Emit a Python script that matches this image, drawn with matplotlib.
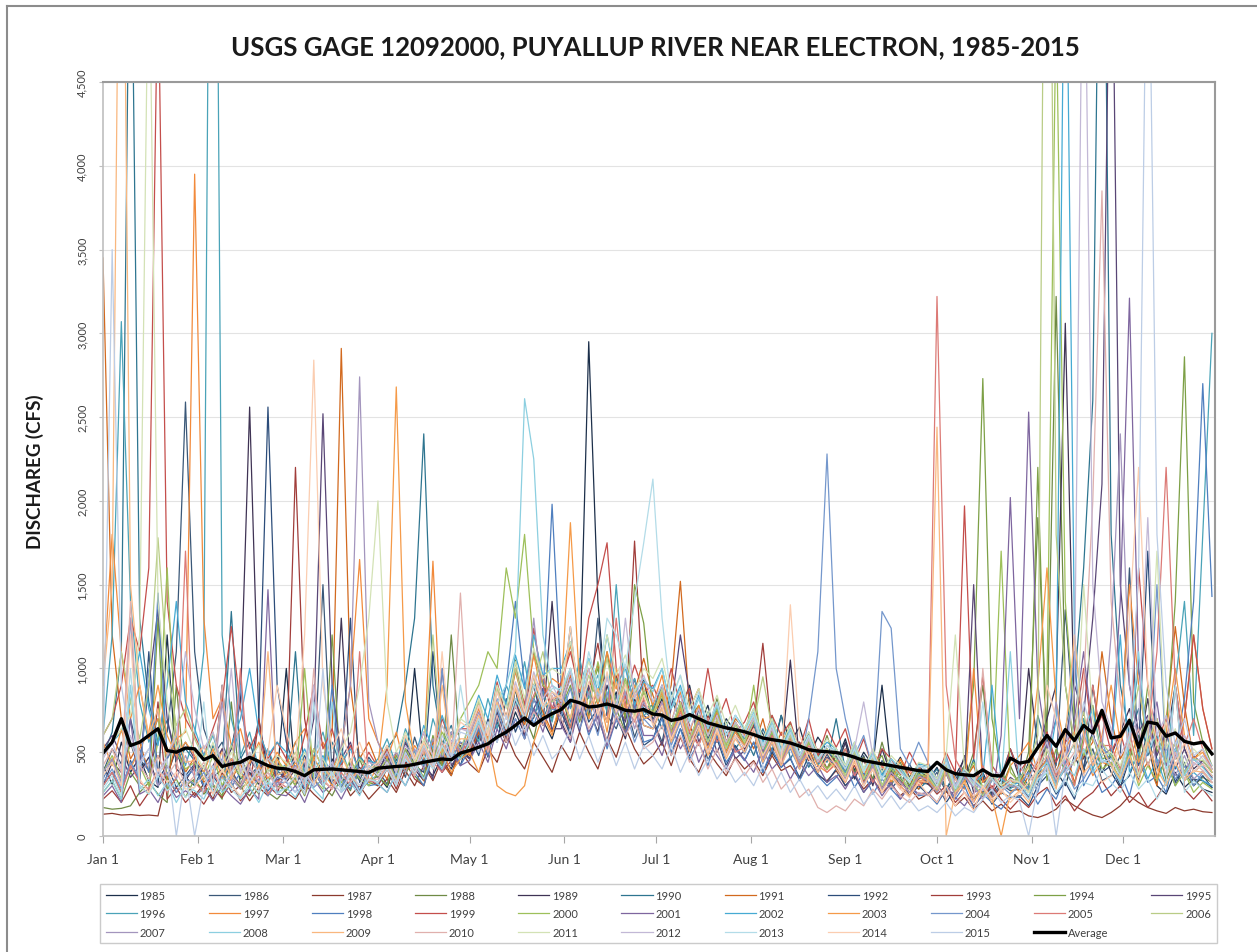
import numpy as np
import matplotlib
matplotlib.use("Agg")
import matplotlib.pyplot as plt
from matplotlib.ticker import FuncFormatter
from matplotlib.lines import Line2D

plt.rcParams['font.family'] = ['Lato', 'DejaVu Sans']

# Daily discharge (cfs) sampled every third day of the year, one list per year
Y1985 = [420, 310, 560, 380, 470, 330, 290, 1200, 400, 350,
         300, 420, 330, 900, 360, 290, 380, 310, 270, 350,
         1000, 330, 280, 390, 310, 460, 350, 300, 410, 320,
         360, 290, 440, 380, 1000, 410, 360, 480, 400, 530,
         460, 590, 520, 680, 560, 740, 610, 820, 690, 580,
         760, 640, 900, 2950, 1400, 720, 860, 640, 780, 930,
         690, 820, 580, 740, 900, 650, 780, 560, 700, 620,
         540, 690, 610, 480, 720, 560, 650, 470, 590, 510,
         440, 580, 390, 500, 420, 900, 380, 470, 350, 430,
         330, 410, 280, 360, 460, 300, 380, 250, 340, 290,
         300, 440, 350, 620, 390, 300, 480, 360, 900, 520,
         380, 290, 460, 330, 560, 300, 250, 380, 290, 340,
         280, 260]
Y1986 = [380, 520, 430, 700, 460, 390, 580, 620, 1100, 2590,
         1100, 640, 480, 560, 400, 470, 360, 420, 330, 390,
         340, 450, 310, 380, 1500, 340, 290, 410, 330, 470,
         390, 310, 460, 350, 590, 420, 510, 380, 620, 460,
         500, 650, 470, 720, 560, 810, 640, 705, 880, 630,
         780, 610, 850, 700, 1300, 720, 640, 800, 590, 745,
         700, 560, 820, 685, 520, 760, 580, 690, 500, 640,
         540, 660, 480, 600, 440, 570, 465, 620, 430, 520,
         415, 560, 370, 480, 330, 450, 390, 300, 430, 320,
         310, 380, 260, 340, 420, 290, 360, 240, 310, 270,
         280, 390, 300, 580, 420, 1350, 620, 400, 520, 330,
         360, 480, 1600, 420, 620, 350, 460, 300, 420, 340,
         330, 290]
Y1987 = [130, 135, 125, 128, 122, 125, 120, 350, 260, 330,
         240, 310, 220, 380, 260, 300, 210, 290, 240, 330,
         260, 220, 310, 250, 200, 290, 350, 240, 300, 220,
         280, 340, 260, 390, 300, 420, 330, 460, 370, 510,
         430, 380, 520, 440, 610, 480, 400, 560, 470, 380,
         540, 450, 620, 500, 400, 580, 470, 650, 520, 430,
         480, 560, 420, 590, 460, 380, 510, 430, 360, 470,
         400, 450, 360, 480, 390, 420, 340, 440, 360, 330,
         390, 300, 360, 280, 340, 260, 310, 240, 290, 220,
         250, 200, 270, 180, 230, 160, 210, 150, 190, 140,
         150, 120, 110, 130, 160, 220, 180, 150, 125, 110,
         140, 180, 240, 200, 170, 150, 135, 170, 150, 160,
         145, 140]
Y1988 = [170, 160, 165, 180, 260, 320, 250, 200, 900, 300,
         340, 250, 300, 220, 800, 290, 240, 330, 260, 220,
         280, 360, 250, 420, 300, 240, 350, 270, 460, 320,
         300, 410, 330, 480, 360, 300, 520, 420, 1200, 470,
         540, 690, 480, 760, 620, 1050, 720, 580, 840, 700,
         860, 640, 980, 720, 820, 1100, 760, 620, 900, 700,
         720, 860, 600, 780, 540, 700, 620, 820, 560, 680,
         560, 640, 480, 720, 505, 600, 430, 560, 445, 600,
         425, 520, 380, 470, 340, 560, 365, 440, 300, 410,
         325, 280, 370, 250, 330, 500, 900, 360, 290, 420,
         300, 500, 1900, 600, 3220, 900, 520, 700, 460, 380,
         500, 380, 460, 600, 420, 560, 330, 480, 380, 300,
         350, 320]
Y1989 = [300, 440, 380, 560, 380, 470, 300, 360, 520, 330,
         420, 290, 350, 400, 520, 800, 2560, 700, 380, 470,
         320, 400, 280, 350, 460, 300, 1300, 360, 270, 420,
         350, 460, 310, 520, 400, 330, 580, 440, 360, 540,
         460, 620, 500, 740, 560, 880, 580, 760, 660, 1400,
         680, 560, 840, 760, 620, 900, 720, 580, 820, 660,
         640, 780, 560, 700, 480, 660, 540, 760, 500, 640,
         520, 620, 440, 580, 470, 1050, 445, 520, 380, 490,
         400, 560, 340, 460, 300, 520, 360, 420, 290, 380,
         310, 260, 390, 300, 480, 260, 350, 220, 300, 520,
         340, 1000, 520, 700, 900, 3060, 700, 460, 620, 380,
         480, 620, 760, 500, 820, 420, 560, 900, 520, 400,
         450, 380]
Y1990 = [480, 620, 1100, 6000, 1300, 800, 560, 690, 450, 520,
         450, 380, 540, 420, 1340, 460, 560, 380, 470, 360,
         400, 1100, 340, 460, 380, 560, 410, 330, 480, 400,
         420, 520, 600, 900, 1300, 2400, 900, 550, 660, 480,
         500, 640, 560, 780, 600, 880, 680, 960, 700, 820,
         800, 1250, 720, 900, 840, 680, 960, 720, 880, 760,
         780, 640, 860, 700, 820, 600, 740, 560, 680, 520,
         600, 480, 640, 510, 720, 460, 560, 410, 500, 440,
         700, 390, 470, 330, 440, 380, 300, 410, 350, 280,
         330, 400, 280, 380, 300, 460, 260, 340, 360, 520,
         380, 300, 720, 520, 340, 640, 900, 1600, 2600, 7000,
         1800, 900, 600, 760, 480, 600, 420, 520, 380, 460,
         410, 360]
Y1991 = [3450, 1200, 700, 460, 560, 380, 480, 340, 560, 380,
         470, 320, 380, 520, 340, 430, 300, 380, 460, 320,
         380, 470, 340, 520, 400, 620, 2910, 900, 460, 560,
         420, 340, 500, 380, 460, 330, 560, 440, 360, 520,
         480, 620, 500, 700, 560, 820, 660, 900, 740, 620,
         760, 960, 700, 880, 1020, 780, 900, 700, 860, 1060,
         840, 700, 900, 1520, 760, 880, 620, 780, 560, 700,
         640, 520, 700, 480, 620, 540, 440, 600, 490, 400,
         520, 390, 470, 330, 500, 420, 310, 460, 340, 280,
         370, 290, 440, 260, 330, 420, 240, 380, 300, 340,
         260, 360, 440, 620, 380, 520, 320, 480, 560, 1100,
         700, 460, 560, 360, 440, 300, 680, 1250, 780, 460,
         520, 400]
Y1992 = [300, 380, 260, 450, 320, 1100, 340, 420, 290, 360,
         430, 300, 360, 280, 460, 340, 400, 700, 2560, 900,
         560, 400, 480, 330, 420, 300, 380, 1300, 320, 390,
         380, 500, 350, 560, 420, 380, 1100, 460, 540, 420,
         600, 480, 700, 560, 820, 620, 760, 900, 660, 760,
         740, 600, 880, 680, 760, 560, 840, 640, 700, 540,
         580, 720, 480, 640, 520, 700, 450, 580, 420, 540,
         450, 560, 380, 500, 410, 460, 350, 480, 370, 320,
         400, 300, 360, 260, 330, 400, 280, 350, 240, 300,
         250, 320, 200, 280, 360, 220, 300, 190, 260, 230,
         240, 180, 300, 360, 250, 320, 220, 420, 620, 380,
         420, 300, 360, 520, 1700, 400, 540, 320, 440, 300,
         360, 290]
Y1993 = [220, 270, 200, 300, 180, 260, 800, 220, 290, 200,
         260, 190, 280, 230, 320, 210, 270, 700, 300, 250,
         420, 2200, 700, 380, 300, 410, 280, 360, 250, 340,
         300, 400, 280, 440, 340, 300, 480, 380, 450, 560,
         500, 640, 560, 780, 620, 900, 700, 1100, 900, 760,
         800, 1000, 700, 880, 1150, 800, 960, 700, 1760, 780,
         740, 900, 620, 800, 660, 540, 720, 600, 500, 640,
         540, 660, 1150, 600, 480, 560, 560, 450, 520, 400,
         480, 360, 420, 320, 400, 290, 360, 300, 240, 330,
         320, 250, 300, 200, 260, 180, 240, 300, 220, 160,
         220, 170, 250, 290, 180, 240, 150, 220, 260, 330,
         240, 300, 200, 260, 170, 230, 320, 900, 280, 220,
         280, 210]
Y1994 = [260, 330, 220, 380, 300, 250, 1300, 280, 340, 230,
         340, 260, 310, 240, 380, 280, 330, 250, 420, 300,
         270, 350, 240, 390, 300, 1200, 320, 280, 380, 330,
         360, 300, 480, 380, 440, 350, 600, 420, 520, 460,
         520, 680, 560, 780, 640, 880, 700, 820, 960, 720,
         760, 900, 680, 840, 1000, 760, 940, 700, 1500, 1270,
         740, 860, 640, 700, 700, 780, 560, 680, 520, 640,
         550, 700, 480, 620, 500, 680, 430, 560, 480, 400,
         520, 380, 470, 340, 420, 480, 320, 390, 300, 360,
         330, 260, 380, 300, 420, 900, 2730, 700, 380, 300,
         360, 280, 2200, 330, 520, 380, 300, 600, 780, 460,
         480, 360, 520, 440, 900, 500, 620, 1400, 2860, 800,
         560, 420]
Y1995 = [520, 600, 480, 350, 420, 900, 1350, 700, 460, 560,
         460, 340, 420, 520, 390, 300, 460, 380, 520, 330,
         390, 300, 420, 700, 2520, 900, 460, 560, 360, 450,
         390, 480, 340, 560, 400, 460, 340, 1000, 420, 500,
         460, 600, 480, 700, 560, 820, 600, 760, 880, 640,
         640, 800, 620, 900, 700, 560, 800, 680, 940, 720,
         680, 540, 760, 1200, 840, 560, 680, 500, 620, 460,
         510, 620, 440, 560, 420, 640, 410, 500, 380, 470,
         410, 320, 460, 300, 400, 280, 370, 330, 260, 340,
         360, 280, 400, 250, 330, 1500, 320, 380, 260, 350,
         310, 230, 380, 460, 300, 560, 900, 720, 1300, 2100,
         6000, 1500, 900, 620, 720, 480, 620, 400, 520, 380,
         430, 350]
Y1996 = [600, 1200, 3070, 1400, 800, 560, 700, 480, 600, 420,
         600, 1100, 9000, 1200, 700, 480, 620, 400, 520, 380,
         430, 560, 380, 480, 620, 400, 520, 360, 470, 400,
         460, 580, 420, 640, 500, 420, 700, 540, 620, 480,
         680, 560, 820, 640, 900, 760, 1040, 720, 860, 680,
         920, 760, 1060, 820, 960, 740, 1500, 820, 940, 720,
         760, 900, 640, 800, 580, 720, 560, 680, 520, 640,
         580, 680, 500, 620, 450, 560, 430, 580, 420, 500,
         470, 380, 520, 340, 460, 300, 410, 360, 280, 380,
         370, 290, 420, 260, 360, 300, 240, 330, 370, 280,
         340, 260, 360, 420, 300, 440, 560, 700, 400, 520,
         480, 380, 620, 1000, 560, 700, 420, 900, 1400, 600,
         1800, 3000]
Y1997 = [900, 1800, 1100, 700, 900, 580, 700, 460, 580, 620,
         3950, 1300, 700, 820, 540, 640, 430, 560, 400, 500,
         420, 560, 640, 460, 560, 400, 520, 900, 1650, 700,
         560, 460, 620, 400, 540, 460, 1640, 500, 600, 480,
         620, 760, 580, 880, 700, 980, 780, 1080, 820, 940,
         900, 1140, 860, 1000, 780, 1100, 880, 1020, 760, 920,
         780, 960, 680, 860, 620, 780, 600, 740, 560, 680,
         600, 720, 520, 640, 480, 620, 460, 580, 440, 540,
         490, 400, 540, 360, 480, 420, 320, 460, 380, 300,
         390, 300, 460, 340, 280, 1000, 320, 380, 250, 420,
         480, 560, 380, 460, 320, 400, 440, 520, 360, 440,
         420, 600, 1500, 900, 540, 700, 420, 560, 700, 1200,
         760, 520]
Y1998 = [340, 460, 300, 420, 520, 380, 1450, 460, 560, 350,
         400, 300, 370, 460, 290, 380, 330, 420, 270, 350,
         340, 420, 280, 380, 300, 900, 340, 280, 400, 300,
         310, 420, 360, 500, 380, 300, 480, 400, 560, 420,
         520, 640, 480, 700, 900, 1400, 900, 660, 820, 1980,
         900, 680, 820, 600, 740, 520, 700, 600, 780, 560,
         580, 700, 500, 640, 460, 560, 420, 600, 440, 520,
         450, 560, 380, 520, 410, 470, 330, 440, 360, 300,
         350, 420, 290, 380, 250, 340, 280, 220, 300, 240,
         250, 190, 280, 220, 300, 170, 250, 200, 160, 230,
         230, 300, 190, 280, 220, 360, 1100, 300, 400, 260,
         300, 380, 240, 460, 320, 360, 260, 500, 820, 1400,
         2700, 1430]
Y1999 = [600, 700, 900, 1300, 1100, 1600, 5200, 1400, 900, 700,
         600, 480, 640, 800, 1250, 760, 520, 640, 460, 560,
         460, 380, 600, 900, 520, 640, 420, 540, 380, 500,
         410, 520, 380, 580, 460, 620, 480, 700, 560, 640,
         640, 800, 620, 920, 700, 1000, 780, 1240, 900, 760,
         920, 1100, 860, 1300, 1500, 1750, 1000, 820, 1020, 860,
         900, 760, 1000, 780, 880, 660, 1000, 680, 820, 620,
         680, 800, 560, 720, 600, 680, 520, 700, 480, 640,
         530, 640, 440, 580, 400, 520, 460, 360, 500, 400,
         430, 340, 500, 380, 1970, 460, 960, 420, 340, 520,
         380, 460, 380, 620, 440, 560, 620, 1000, 600, 720,
         500, 620, 420, 1600, 900, 560, 700, 460, 700, 1200,
         760, 520]
Y2000 = [380, 480, 340, 560, 420, 300, 560, 1600, 500, 400,
         440, 340, 480, 300, 420, 360, 280, 400, 310, 460,
         380, 300, 1000, 340, 280, 420, 320, 460, 340, 300,
         380, 460, 340, 520, 420, 560, 440, 620, 520, 700,
         800, 900, 1100, 1000, 1600, 1300, 1800, 1100, 900, 860,
         820, 700, 960, 760, 1040, 820, 720, 940, 700, 860,
         720, 840, 620, 780, 560, 700, 600, 760, 540, 680,
         550, 900, 480, 620, 460, 580, 420, 560, 470, 400,
         450, 360, 500, 340, 440, 300, 400, 340, 280, 370,
         350, 280, 400, 260, 330, 440, 290, 340, 1700, 380,
         320, 260, 380, 900, 5000, 1400, 700, 480, 600, 400,
         440, 340, 500, 300, 420, 330, 460, 300, 380, 260,
         320, 280]
Y2001 = [240, 300, 200, 700, 250, 280, 200, 320, 230, 270,
         230, 290, 210, 300, 240, 190, 280, 220, 1470, 250,
         240, 300, 200, 340, 260, 310, 220, 330, 260, 380,
         310, 260, 380, 300, 420, 340, 480, 380, 500, 420,
         450, 560, 440, 640, 520, 700, 580, 760, 620, 820,
         660, 560, 780, 620, 720, 540, 700, 620, 800, 600,
         600, 480, 660, 520, 620, 440, 560, 480, 400, 520,
         460, 380, 520, 400, 460, 340, 440, 360, 420, 320,
         360, 280, 380, 260, 340, 240, 320, 220, 300, 250,
         260, 200, 300, 230, 180, 260, 280, 220, 600, 2020,
         700, 2530, 900, 520, 700, 400, 700, 1100, 600, 480,
         520, 1400, 3210, 1000, 600, 800, 420, 560, 380, 480,
         430, 340]
Y2002 = [500, 560, 620, 800, 1100, 760, 540, 900, 1400, 800,
         640, 480, 600, 420, 540, 700, 1000, 620, 480, 560,
         500, 400, 520, 380, 480, 360, 440, 520, 380, 450,
         430, 540, 400, 580, 460, 660, 520, 720, 560, 640,
         680, 840, 700, 960, 780, 1080, 880, 1200, 960, 1000,
         1000, 1160, 880, 1060, 860, 1200, 900, 1000, 780, 920,
         880, 1000, 760, 900, 700, 840, 640, 780, 600, 720,
         640, 760, 560, 700, 520, 640, 480, 600, 500, 560,
         520, 420, 560, 400, 500, 360, 460, 400, 340, 430,
         420, 340, 460, 300, 400, 320, 360, 900, 340, 300,
         320, 280, 330, 380, 700, 6000, 1200, 620, 760, 440,
         460, 1200, 380, 500, 340, 460, 300, 420, 330, 380,
         330, 300]
Y2003 = [560, 420, 640, 400, 520, 620, 900, 600, 480, 560,
         480, 380, 520, 340, 460, 380, 300, 420, 340, 460,
         350, 440, 320, 460, 380, 300, 420, 340, 400, 320,
         420, 900, 2680, 800, 460, 560, 400, 520, 380, 460,
         500, 380, 580, 300, 260, 240, 300, 560, 720, 600,
         840, 1870, 900, 700, 880, 620, 1000, 760, 900, 700,
         720, 860, 600, 760, 540, 700, 520, 680, 500, 620,
         540, 640, 460, 580, 440, 540, 400, 520, 420, 380,
         440, 340, 460, 310, 420, 280, 380, 320, 260, 350,
         340, 270, 380, 240, 330, 200, 300, 230, 0, 260,
         300, 420, 900, 1600, 800, 520, 620, 380, 440, 600,
         900, 560, 700, 440, 560, 340, 620, 1000, 600, 460,
         500, 380]
Y2004 = [320, 400, 280, 440, 340, 1000, 300, 380, 260, 340,
         310, 380, 260, 360, 300, 900, 290, 340, 240, 320,
         320, 260, 380, 290, 340, 420, 300, 380, 270, 330,
         320, 420, 300, 460, 380, 520, 440, 1000, 460, 560,
         540, 680, 520, 760, 600, 700, 580, 820, 680, 760,
         720, 880, 640, 780, 600, 860, 680, 760, 560, 700,
         640, 760, 540, 680, 520, 620, 500, 660, 480, 600,
         490, 620, 430, 560, 450, 520, 400, 700, 1100, 2280,
         1000, 700, 480, 600, 400, 1340, 1240, 520, 420, 560,
         440, 340, 480, 300, 400, 330, 280, 380, 300, 250,
         300, 380, 260, 460, 320, 400, 280, 340, 440, 560,
         420, 320, 460, 360, 500, 1500, 460, 340, 420, 300,
         380, 320]
Y2005 = [300, 380, 260, 420, 320, 280, 400, 260, 350, 1700,
         320, 260, 380, 280, 340, 1000, 300, 360, 250, 330,
         290, 360, 250, 420, 330, 280, 380, 300, 1100, 330,
         320, 420, 300, 480, 380, 520, 440, 380, 560, 500,
         560, 700, 520, 780, 640, 900, 700, 840, 960, 760,
         780, 640, 920, 760, 860, 680, 1300, 780, 680, 820,
         680, 800, 580, 740, 620, 540, 700, 560, 660, 500,
         530, 640, 460, 600, 440, 580, 420, 540, 460, 380,
         430, 520, 360, 460, 320, 420, 360, 280, 400, 300,
         360, 3220, 900, 460, 360, 300, 420, 280, 360, 300,
         340, 260, 420, 520, 360, 480, 300, 560, 900, 540,
         540, 400, 620, 380, 600, 1100, 2200, 900, 540, 700,
         520, 400]
Y2006 = [600, 700, 1100, 800, 580, 900, 1780, 1000, 660, 760,
         580, 460, 620, 420, 540, 380, 500, 360, 460, 420,
         410, 500, 360, 520, 400, 340, 480, 380, 460, 400,
         420, 540, 380, 600, 460, 520, 1200, 480, 600, 520,
         660, 800, 620, 880, 700, 1000, 760, 900, 1100, 800,
         840, 1000, 760, 960, 800, 1060, 780, 920, 720, 880,
         720, 880, 640, 800, 580, 720, 560, 700, 520, 660,
         560, 680, 950, 640, 460, 600, 440, 580, 460, 520,
         460, 360, 500, 340, 460, 300, 420, 360, 280, 400,
         360, 280, 420, 260, 380, 310, 240, 340, 280, 300,
         340, 420, 600, 8000, 1800, 900, 560, 740, 460, 560,
         480, 380, 600, 900, 560, 700, 440, 560, 380, 460,
         450, 380]
Y2007 = [380, 460, 320, 1300, 380, 440, 300, 420, 340, 480,
         350, 420, 300, 800, 340, 280, 400, 320, 380, 300,
         360, 420, 320, 400, 300, 420, 520, 900, 2740, 800,
         560, 420, 500, 380, 520, 400, 580, 460, 620, 500,
         600, 740, 560, 820, 640, 900, 720, 1300, 780, 860,
         780, 940, 700, 860, 660, 960, 720, 860, 640, 800,
         680, 800, 600, 720, 540, 680, 500, 640, 480, 600,
         530, 640, 460, 580, 420, 560, 440, 500, 380, 460,
         430, 340, 480, 310, 420, 280, 380, 320, 260, 360,
         330, 260, 380, 240, 350, 290, 220, 340, 280, 300,
         290, 220, 340, 400, 800, 380, 440, 620, 420, 520,
         1200, 2400, 900, 540, 700, 420, 560, 360, 480, 340,
         390, 320]
Y2008 = [260, 330, 220, 900, 280, 340, 240, 320, 200, 300,
         270, 220, 340, 260, 310, 230, 290, 200, 320, 260,
         290, 230, 340, 280, 220, 800, 260, 320, 240, 380,
         310, 260, 380, 300, 440, 340, 480, 400, 520, 460,
         560, 680, 560, 800, 900, 1100, 2610, 2250, 1200, 900,
         860, 1000, 780, 1060, 840, 960, 760, 1020, 860, 940,
         860, 1000, 760, 880, 680, 820, 640, 780, 600, 720,
         620, 740, 540, 680, 500, 640, 480, 600, 460, 540,
         510, 420, 540, 380, 500, 340, 460, 400, 320, 420,
         410, 320, 460, 300, 400, 340, 280, 380, 300, 1100,
         310, 240, 380, 440, 300, 420, 360, 520, 380, 460,
         420, 320, 560, 1100, 500, 620, 400, 520, 360, 460,
         410, 340]
Y2009 = [900, 1500, 7000, 1500, 900, 600, 760, 480, 620, 440,
         450, 540, 380, 500, 340, 460, 320, 400, 1100, 360,
         400, 320, 460, 300, 420, 340, 480, 360, 300, 420,
         360, 440, 330, 480, 400, 560, 420, 900, 480, 580,
         580, 720, 560, 800, 640, 880, 700, 960, 760, 820,
         840, 700, 960, 760, 880, 680, 920, 740, 860, 660,
         640, 760, 560, 700, 500, 640, 480, 620, 460, 580,
         500, 620, 440, 560, 420, 540, 400, 500, 380, 460,
         400, 320, 440, 300, 400, 260, 360, 300, 240, 330,
         320, 2440, 0, 260, 320, 230, 290, 200, 270, 220,
         270, 200, 360, 420, 280, 600, 1200, 600, 420, 520,
         420, 340, 480, 320, 560, 400, 300, 440, 330, 390,
         380, 320]
Y2010 = [420, 520, 380, 1400, 420, 340, 480, 360, 440, 300,
         360, 440, 320, 900, 360, 300, 420, 320, 380, 280,
         330, 410, 300, 1000, 340, 280, 420, 320, 400, 330,
         340, 420, 300, 480, 360, 520, 400, 560, 450, 1450,
         520, 660, 500, 720, 560, 780, 620, 740, 660, 840,
         700, 580, 820, 640, 760, 560, 720, 600, 700, 520,
         560, 660, 480, 600, 440, 560, 400, 520, 380, 460,
         360, 440, 320, 400, 280, 340, 230, 280, 170, 140,
         180, 150, 220, 180, 280, 220, 300, 240, 200, 260,
         240, 300, 220, 340, 260, 200, 1000, 380, 260, 330,
         320, 260, 400, 480, 340, 420, 500, 900, 2000, 3850,
         1400, 800, 520, 640, 420, 560, 360, 500, 340, 440,
         390, 320]
Y2011 = [500, 560, 640, 720, 1200, 5500, 1400, 800, 520, 640,
         500, 400, 560, 380, 500, 360, 460, 540, 380, 480,
         440, 360, 500, 380, 460, 360, 520, 620, 900, 1300,
         2000, 800, 500, 620, 440, 580, 480, 660, 520, 700,
         660, 820, 620, 900, 760, 1040, 820, 1120, 940, 1000,
         960, 1160, 880, 1040, 900, 1200, 960, 1080, 860, 1000,
         940, 1060, 820, 960, 760, 880, 720, 840, 660, 780,
         640, 760, 580, 700, 540, 660, 520, 620, 500, 580,
         520, 420, 560, 400, 520, 380, 480, 420, 340, 440,
         420, 340, 480, 1200, 400, 340, 290, 380, 300, 340,
         320, 260, 400, 520, 380, 480, 420, 1500, 700, 480,
         500, 420, 580, 360, 600, 1700, 520, 640, 420, 520,
         460, 400]
Y2012 = [460, 560, 400, 600, 440, 520, 380, 480, 600, 1100,
         760, 520, 620, 420, 1000, 380, 500, 360, 460, 400,
         390, 460, 340, 900, 380, 440, 330, 420, 360, 440,
         420, 500, 380, 540, 460, 620, 480, 660, 560, 640,
         620, 780, 600, 860, 700, 920, 740, 980, 820, 900,
         800, 980, 740, 1000, 820, 940, 760, 1300, 820, 960,
         800, 900, 680, 840, 640, 760, 600, 720, 560, 680,
         590, 700, 520, 640, 480, 620, 460, 580, 440, 540,
         490, 400, 520, 800, 480, 340, 440, 380, 320, 420,
         390, 320, 440, 300, 380, 320, 270, 360, 380, 460,
         420, 340, 460, 560, 380, 460, 900, 6000, 1500, 800,
         640, 480, 600, 700, 1900, 600, 720, 460, 600, 420,
         480, 400]
Y2013 = [280, 360, 240, 1000, 300, 250, 360, 270, 320, 230,
         290, 800, 240, 340, 280, 220, 320, 260, 340, 250,
         290, 360, 250, 800, 300, 380, 280, 360, 260, 340,
         320, 400, 300, 460, 380, 480, 400, 540, 440, 900,
         560, 700, 540, 780, 640, 820, 700, 900, 760, 880,
         880, 1000, 800, 1100, 900, 1300, 1200, 1000, 1400, 1750,
         2130, 1300, 800, 960, 700, 860, 660, 800, 600, 720,
         620, 720, 540, 660, 500, 620, 480, 600, 460, 540,
         490, 400, 520, 380, 480, 340, 440, 380, 320, 420,
         390, 300, 440, 280, 380, 300, 800, 340, 280, 320,
         290, 220, 340, 380, 260, 340, 240, 320, 300, 400,
         320, 260, 380, 280, 340, 220, 320, 900, 260, 330,
         280, 240]
Y2014 = [360, 440, 300, 1200, 340, 260, 400, 320, 380, 280,
         290, 360, 250, 400, 300, 240, 360, 280, 500, 900,
         620, 440, 1200, 2840, 900, 520, 640, 440, 560, 400,
         440, 540, 400, 600, 460, 560, 440, 1100, 500, 680,
         640, 780, 600, 860, 700, 900, 740, 960, 780, 860,
         820, 1250, 760, 920, 720, 980, 740, 900, 700, 840,
         660, 780, 580, 700, 540, 660, 500, 640, 480, 600,
         530, 640, 480, 580, 440, 1380, 600, 460, 400, 500,
         420, 330, 460, 300, 400, 260, 350, 280, 230, 320,
         250, 200, 300, 180, 260, 150, 300, 220, 280, 200,
         260, 320, 400, 900, 700, 460, 560, 360, 480, 320,
         360, 560, 1300, 2200, 900, 540, 680, 420, 560, 380,
         430, 360]
Y2015 = [400, 3500, 900, 560, 420, 520, 360, 460, 0, 380,
         0, 300, 420, 280, 380, 460, 320, 400, 280, 360,
         330, 260, 380, 300, 1000, 320, 260, 380, 300, 420,
         360, 440, 320, 500, 400, 540, 420, 600, 480, 620,
         600, 500, 680, 560, 720, 540, 660, 480, 600, 460,
         520, 640, 460, 600, 440, 580, 420, 560, 400, 540,
         480, 400, 540, 380, 500, 360, 460, 340, 420, 320,
         380, 300, 420, 280, 380, 260, 340, 240, 300, 220,
         280, 210, 300, 190, 260, 170, 240, 160, 220, 150,
         180, 140, 200, 120, 170, 140, 220, 280, 200, 240,
         210, 0, 300, 420, 0, 380, 460, 800, 600, 440,
         460, 360, 600, 1600, 6000, 1800, 900, 540, 700, 480,
         520, 420]

# Mean of all years, same three-day spacing
AVERAGE = [495, 560, 700, 540, 560, 600, 640, 510, 500, 525,
           520, 455, 480, 415, 430, 440, 470, 445, 420, 405,
           400, 385, 360, 395, 398, 400, 395, 390, 385, 378,
           405, 410, 415, 418, 428, 440, 450, 460, 455, 495,
           510, 530, 550, 590, 620, 660, 705, 660, 700, 730,
           755, 810, 795, 770, 775, 788, 772, 750, 745, 755,
           728, 722, 690, 700, 725, 700, 675, 660, 645, 635,
           622, 605, 585, 575, 567, 555, 537, 515, 507, 503,
           498, 487, 470, 450, 440, 430, 420, 410, 400, 390,
           385, 440, 395, 372, 365, 360, 395, 362, 358, 465,
           435, 445, 528, 600, 535, 635, 570, 660, 615, 750,
           585, 595, 690, 530, 680, 670, 595, 615, 565, 550,
           560, 490]

YEARS = list(range(1985, 2016))
SERIES = [Y1985, Y1986, Y1987, Y1988, Y1989, Y1990, Y1991, Y1992, Y1993,
          Y1994, Y1995, Y1996, Y1997, Y1998, Y1999, Y2000, Y2001, Y2002,
          Y2003, Y2004, Y2005, Y2006, Y2007, Y2008, Y2009, Y2010, Y2011,
          Y2012, Y2013, Y2014, Y2015]
COLORS = ['#1c2f4a', '#3b5878', '#8c3a2e', '#6f8a45', '#3f3354', '#2e7590',
          '#d2691e', '#2c4d7a', '#a13d3a', '#7da046', '#594676', '#4aa3b8',
          '#f28a3b', '#4f7fbf', '#c44e4b', '#9ec05a', '#7e669f', '#46aad3',
          '#f59a48', '#7497cc', '#dc7a76', '#b9cc86', '#a395bd', '#8ccfe0',
          '#f9b77e', '#e0b0ad', '#d3e2b5', '#c2b8d6', '#b3dce8', '#fbcdb0',
          '#bccde6']

MONTH_START = [0, 31, 59, 90, 120, 151, 181, 212, 243, 273, 304, 334]
MONTH_LABELS = ['Jan 1', 'Feb 1', 'Mar 1', 'Apr 1', 'May 1', 'Jun 1',
                'Jul 1', 'Aug 1', 'Sep 1', 'Oct 1', 'Nov 1', 'Dec 1']
TITLE = 'USGS GAGE 12092000, PUYALLUP RIVER NEAR ELECTRON, 1985-2015'
Y_LABEL = 'DISCHAREG (CFS)'

W, H = 1257, 953
fig = plt.figure(figsize=(W / 100, H / 100), dpi=100)


def fx(px):
    return px / W


def fy(py):
    return 1 - py / H


ax = fig.add_axes([fx(103), fy(837), (1215 - 103) / W, (837 - 83) / H])

STEP = 3
for yr, vals, col in zip(YEARS, SERIES, COLORS):
    days = np.arange(len(vals)) * STEP
    ax.plot(days, vals, color=col, lw=0.9, label=str(yr),
            solid_joinstyle='round')
ax.plot(np.arange(len(AVERAGE)) * STEP, AVERAGE, color='black', lw=2.4,
        label='Average', solid_joinstyle='round')

ax.set_xlim(0, 364)
ax.set_ylim(0, 4500)
ax.set_yticks(range(0, 4501, 500))
ax.yaxis.set_major_formatter(FuncFormatter(lambda v, p: f'{int(v):,}'))
ax.tick_params(axis='y', labelsize=8, length=3, color='#bfbfbf', pad=8,
               labelcolor='#404040')
for lbl in ax.get_yticklabels():
    lbl.set_rotation(90)
    lbl.set_va('center')
ax.set_xticks(MONTH_START)
ax.set_xticklabels(MONTH_LABELS)
ax.tick_params(axis='x', labelsize=10, length=5, color='#a6a6a6', pad=7,
               labelcolor='#404040')

ax.yaxis.grid(True, color='#e3e3e3', lw=0.8)
ax.set_axisbelow(True)
for side in ['top', 'right']:
    ax.spines[side].set_color('#9a9a9a')
    ax.spines[side].set_linewidth(1.5)
for side in ['left', 'bottom']:
    ax.spines[side].set_color('#bfbfbf')
    ax.spines[side].set_linewidth(1.2)

fig.text(fx(655), fy(47), TITLE, fontsize=18.5, fontweight='bold',
         ha='center', va='center', color='#1a1a1a')
fig.text(fx(35), fy(472), Y_LABEL, fontsize=13.5, fontweight='bold',
         rotation=90, ha='center', va='center', color='#1a1a1a')

# Legend laid out row by row in eleven columns
handles, labels = ax.get_legend_handles_labels()
n = len(handles)
ncol = 11
order = [r * ncol + c for c in range(ncol) for r in range(3) if r * ncol + c < n]
leg = fig.legend([handles[i] for i in order], [labels[i] for i in order],
                 ncol=ncol, loc='upper left',
                 bbox_to_anchor=(fx(100), fy(945), (1217 - 100) / W, (945 - 885) / H),
                 mode='expand', fontsize=8, frameon=True, fancybox=False,
                 edgecolor='#bfbfbf', handlelength=2.8, handletextpad=0.25,
                 borderaxespad=0, labelspacing=0.68, borderpad=0.5)
leg.get_frame().set_linewidth(1.0)
for t in leg.get_texts():
    t.set_color('#404040')

# Outer frame of the chart area
fig.add_artist(Line2D([fx(7), fx(W + 5)], [fy(7), fy(7)], color='#8c8c8c',
                      lw=1.5, transform=fig.transFigure))
fig.add_artist(Line2D([fx(7), fx(7)], [fy(7), fy(H + 5)], color='#8c8c8c',
                      lw=1.5, transform=fig.transFigure))

fig.savefig('out.png', dpi=100)
